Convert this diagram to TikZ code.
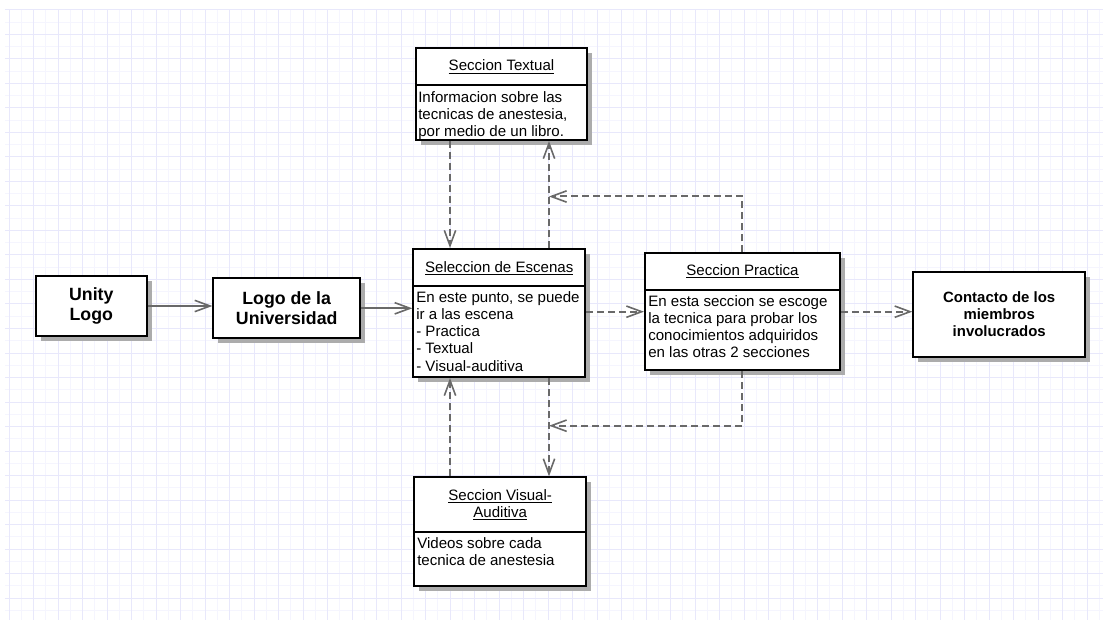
\documentclass[tikz,border=0pt]{standalone}
\usepackage{fontspec}
\setmainfont{Liberation Sans}
\usetikzlibrary{arrows.meta}
\usetikzlibrary{shadows}

\definecolor{gridmaj}{RGB}{232,232,251}
\definecolor{gridmin}{RGB}{245,245,254}
\definecolor{linkgray}{RGB}{105,105,105}
\definecolor{shadowgray}{RGB}{172,172,172}

\tikzset{
  gridline/.style={line width=0.75pt},
  box/.style={draw=black, line width=1.5pt, fill=white, inner sep=0pt,
    drop shadow={shadow xshift=3.75pt, shadow yshift=-3.75pt, fill=shadowgray, opacity=1}},
  sepline/.style={line width=1.5pt},
  ttl/.style={font=\fontsize{11.3}{12.8}\selectfont, align=center, inner sep=0pt},
  body/.style={font=\fontsize{11.3}{12.8}\selectfont, align=left, anchor=north west, inner sep=0pt},
  bold/.style={font=\bfseries\fontsize{13.3}{15}\selectfont, align=center, inner sep=0pt},
  flow/.style={draw=linkgray, line width=1.5pt, -{Straight Barb[length=11.5pt, width=8.5pt, line width=1.2pt]}},
  dep/.style={flow, dash pattern=on 5.25pt off 3pt},
}

\begin{document}
\begin{tikzpicture}[x=0.75pt,y=0.75pt,yscale=-1,xscale=1]
\useasboundingbox (0,0) rectangle (1103,620);

%Grid
\foreach \gx in {21.25,45.75,...,1103} \draw[gridline, gridmin] (\gx,10) -- (\gx,620);
\foreach \gy in {22.25,46.75,...,620} \draw[gridline, gridmin] (5,\gy) -- (1103,\gy);
\foreach \gx in {9,33.5,...,1103} \draw[gridline, gridmaj] (\gx,10) -- (\gx,620);
\foreach \gy in {10,34.5,...,620} \draw[gridline, gridmaj] (5,\gy) -- (1103,\gy);

%Shape: Rectangle
\node[box, minimum width=83pt, minimum height=45pt] (unity) at (91.3,306) {};
\node[bold] (unityT) at (unity.center) {Unity\\Logo};

%Shape: Rectangle
\node[box, minimum width=110pt, minimum height=45pt] (logo) at (286.7,308.3) {};
\node[bold] (logoT) at (logo.center) {Logo de la\\Universidad};

%Shape: Rectangle
\node[box, minimum width=128.25pt, minimum height=69pt] (txt) at (501.5,94) {};
\draw[sepline] (txt.west |- 0,85) -- (txt.east |- 0,85);
\node[ttl, anchor=base] (txtT) at (501.5,71) {\underline{Seccion Textual}};
\node[body] (txtB) at (418,91) {Informacion sobre las\\tecnicas de anestesia,\\por medio de un libro.};

%Shape: Rectangle
\node[box, minimum width=128.8pt, minimum height=96pt] (sel) at (499.2,313) {};
\draw[sepline] (sel.west |- 0,285.7) -- (sel.east |- 0,285.7);
\node[ttl, anchor=base] (selT) at (499.2,272.3) {\underline{Seleccion de Escenas}};
\node[body] (selB) at (416,291.6) {En este punto, se puede\\ir a las escena\\- Practica\\- Textual\\- Visual-auditiva};

%Shape: Rectangle
\node[box, minimum width=146.25pt, minimum height=87.5pt] (prac) at (742.5,311.7) {};
\draw[sepline] (prac.west |- 0,290) -- (prac.east |- 0,290);
\node[ttl, anchor=base] (pracT) at (742.5,275.7) {\underline{Seccion Practica}};
\node[body] (pracB) at (648,295) {En esta seccion se escoge\\la tecnica para probar los\\conocimientos adquiridos\\en las otras 2 secciones};

%Shape: Rectangle
\node[box, minimum width=128.8pt, minimum height=63.75pt] (cont) at (999.2,314.2) {};
\node[bold, font=\bfseries\fontsize{11.2}{12.5}\selectfont] (contT) at (cont.center) {Contacto de los\\miembros\\involucrados};

%Shape: Rectangle
\node[box, minimum width=128.8pt, minimum height=81.5pt] (vis) at (500.2,531.7) {};
\draw[sepline] (vis.west |- 0,531.7) -- (vis.east |- 0,531.7);
\node[ttl, anchor=north] (visT) at (500.2,489.3) {\underline{Seccion Visual-}\\\underline{Auditiva}};
\node[body] (visB) at (417,537) {Videos sobre cada\\tecnica de anestesia};

%Connectors
\coordinate (xL) at (450,0);
\coordinate (xR) at (549,0);
\coordinate (xP) at (742,0);
\coordinate (yT) at (0,196.5);
\coordinate (yB) at (0,425.7);

\draw[flow] (unity.east) -- (unity.east -| logo.west);
\draw[flow] (logo.east) -- (logo.east -| sel.west);
\draw[dep] (sel.east |- prac.west) -- (prac.west);
\draw[dep] (prac.east) -- (prac.east -| cont.west);

\draw[dep] (txt.south -| xL) -- (sel.north -| xL);
\draw[dep] (sel.north -| xR) -- (txt.south -| xR);
\draw[dep] (prac.north -| xP) |- (xR |- yT);

\draw[dep] (sel.south -| xR) -- (vis.north -| xR);
\draw[dep] (vis.north -| xL) -- (sel.south -| xL);
\draw[dep] (prac.south -| xP) |- (xR |- yB);

\end{tikzpicture}
\end{document}
